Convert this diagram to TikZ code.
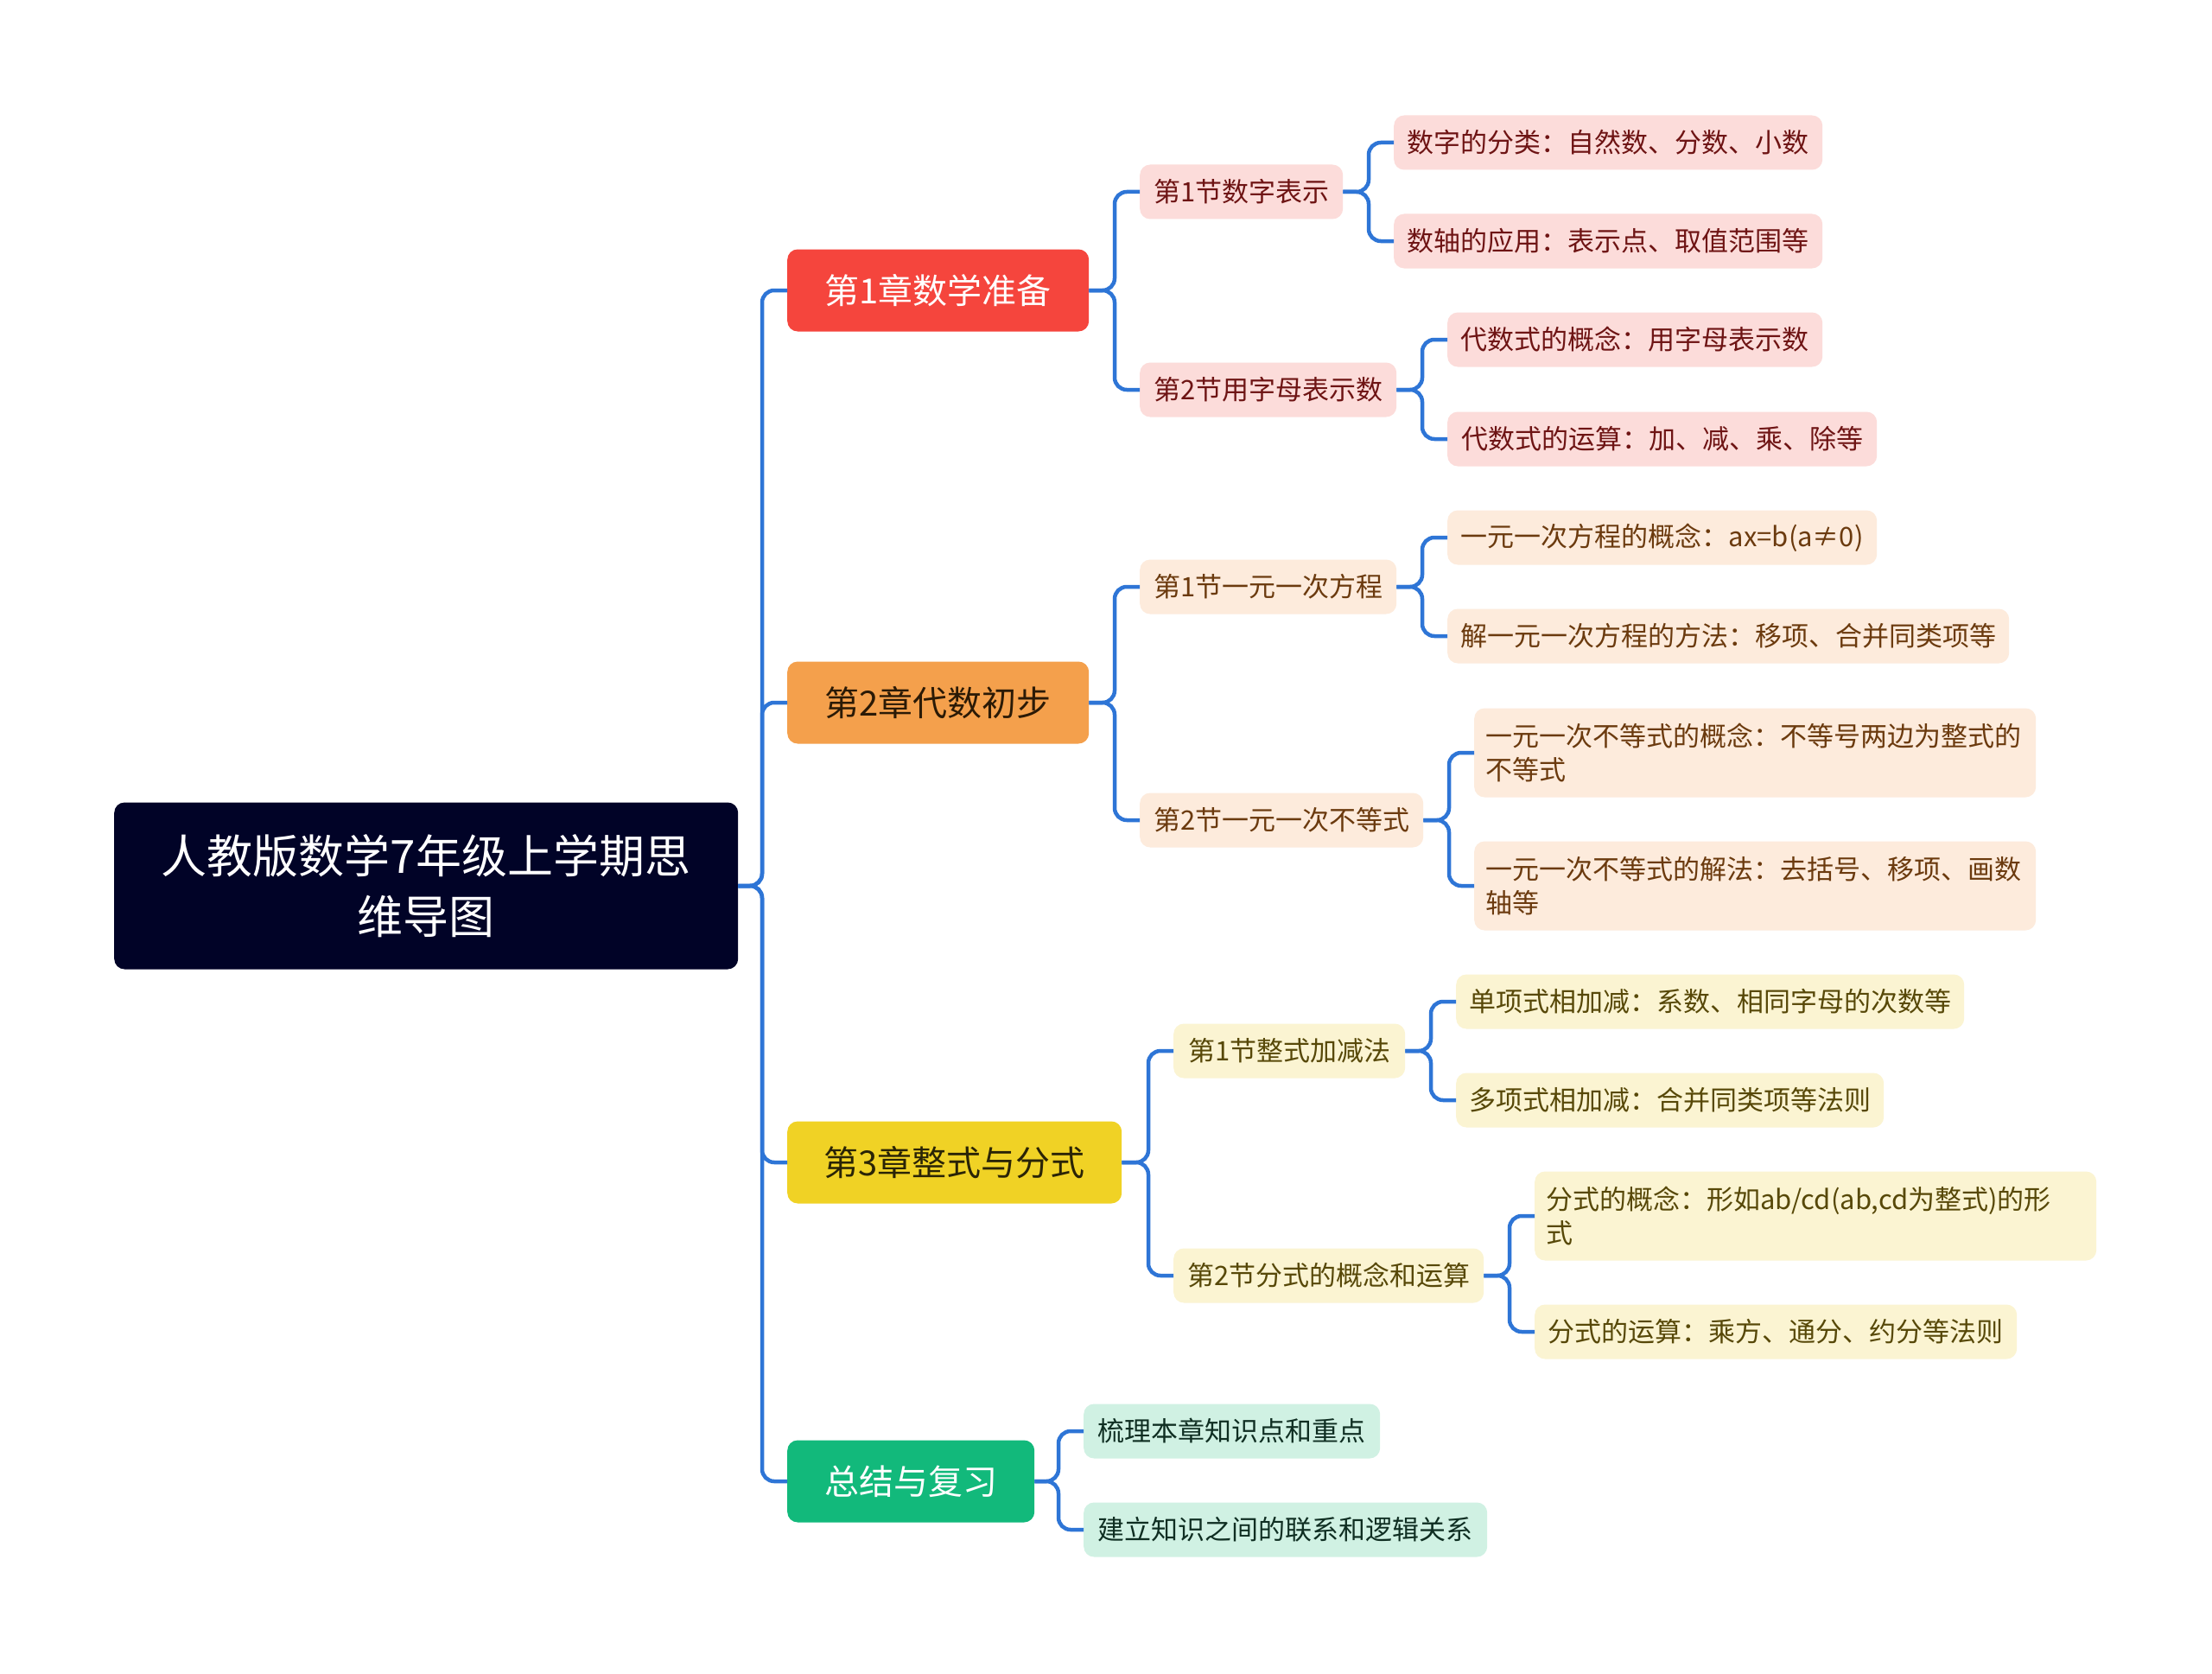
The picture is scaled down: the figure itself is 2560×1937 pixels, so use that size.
\documentclass[tikz,border=0pt]{standalone}
\usepackage{fontspec}
\setmainfont{Noto Sans CJK SC}
\definecolor{rootfill}{HTML}{010327}
\definecolor{lineblue}{HTML}{2E75D6}
\definecolor{aF}{HTML}{F5453D}\definecolor{aS}{HTML}{FCDCDA}\definecolor{aT}{HTML}{6E1414}
\definecolor{bF}{HTML}{F4A04C}\definecolor{bS}{HTML}{FDEBDC}\definecolor{bT}{HTML}{6B3A0E}\definecolor{bM}{HTML}{2B1A06}
\definecolor{cF}{HTML}{F0D225}\definecolor{cS}{HTML}{FBF4D2}\definecolor{cT}{HTML}{574808}\definecolor{cM}{HTML}{2A2406}
\definecolor{dF}{HTML}{12B97B}\definecolor{dS}{HTML}{D0F1E3}\definecolor{dT}{HTML}{0F2E22}
\begin{document}
\begin{tikzpicture}[x=1pt,y=-1pt,
  box/.style={rounded corners=12pt, inner sep=0pt, anchor=west, font=\fontsize{31}{39}\selectfont},
  leaf/.style={box, minimum height=63pt},
  twoline/.style={box, minimum height=103pt, inner xsep=13pt, text width=624pt, align=left},
  chap/.style={box, minimum height=95pt, font=\fontsize{40}{48}\selectfont},
  conn/.style={draw=lineblue, line width=4.5pt, rounded corners=14pt}]
\useasboundingbox (0,0) rectangle (2560,1937);
\fill[white] (0,0) rectangle (2560,1937);
% root
\node[box, fill=rootfill, text=white, minimum width=722pt, minimum height=193pt, align=center,
  font=\fontsize{53}{70}\selectfont] (root) at (132,1025) {人教版数学7年级上学期思\\维导图};
% chapters
\node[chap, fill=aF, text=white, minimum width=349pt] (ch1) at (911,336) {第1章数学准备};
\node[chap, fill=bF, text=bM, minimum width=349pt] (ch2) at (911,813) {第2章代数初步};
\node[chap, fill=cF, text=cM, minimum width=387pt] (ch3) at (911,1345) {第3章整式与分式};
\node[chap, fill=dF, text=white, minimum width=286pt] (ch4) at (911,1714) {总结与复习};
% chapter 1
\node[leaf, fill=aS, text=aT, minimum width=235pt] (s11) at (1319,222) {第1节数字表示};
\node[leaf, fill=aS, text=aT, minimum width=297pt] (s12) at (1319,451) {第2节用字母表示数};
\node[leaf, fill=aS, text=aT, minimum width=496pt] (l111) at (1613,165) {数字的分类：自然数、分数、小数};
\node[leaf, fill=aS, text=aT, minimum width=496pt] (l112) at (1613,279) {数轴的应用：表示点、取值范围等};
\node[leaf, fill=aS, text=aT, minimum width=434pt] (l121) at (1675,393) {代数式的概念：用字母表示数};
\node[leaf, fill=aS, text=aT, minimum width=497pt] (l122) at (1675,508) {代数式的运算：加、减、乘、除等};
% chapter 2
\node[leaf, fill=bS, text=bT, minimum width=297pt] (s21) at (1319,679) {第1节一元一次方程};
\node[leaf, fill=bS, text=bT, minimum width=328pt] (s22) at (1319,949) {第2节一元一次不等式};
\node[leaf, fill=bS, text=bT, minimum width=497pt] (l211) at (1675,622) {一元一次方程的概念：ax=b(a≠0)};
\node[leaf, fill=bS, text=bT, minimum width=650pt] (l212) at (1675,736) {解一元一次方程的方法：移项、合并同类项等};
\node[twoline, fill=bS, text=bT] (l221) at (1706,871) {一元一次不等式的概念：不等号两边为整式的\\不等式};
\node[twoline, fill=bS, text=bT] (l222) at (1706,1025) {一元一次不等式的解法：去括号、移项、画数\\轴等};
% chapter 3
\node[leaf, fill=cS, text=cT, minimum width=268pt] (s31) at (1358,1216) {第1节整式加减法};
\node[leaf, fill=cS, text=cT, minimum width=359pt] (s32) at (1358,1476) {第2节分式的概念和运算};
\node[leaf, fill=cS, text=cT, minimum width=588pt] (l311) at (1685,1159) {单项式相加减：系数、相同字母的次数等};
\node[leaf, fill=cS, text=cT, minimum width=495pt] (l312) at (1685,1273) {多项式相加减：合并同类项等法则};
\node[twoline, fill=cS, text=cT] (l321) at (1776,1407) {分式的概念：形如ab/cd(ab,cd为整式)的形\\式};
\node[leaf, fill=cS, text=cT, minimum width=558pt] (l322) at (1776,1541) {分式的运算：乘方、通分、约分等法则};
% summary
\node[leaf, fill=dS, text=dT, minimum width=343pt] (sm1) at (1254,1656) {梳理本章知识点和重点};
\node[leaf, fill=dS, text=dT, minimum width=467pt] (sm2) at (1254,1770) {建立知识之间的联系和逻辑关系};
% connectors
\foreach \p/\c in {root/ch1,root/ch2,root/ch3,root/ch4,
  ch1/s11,ch1/s12,s11/l111,s11/l112,s12/l121,s12/l122,
  ch2/s21,ch2/s22,s21/l211,s21/l212,s22/l221,s22/l222,
  ch3/s31,ch3/s32,s31/l311,s31/l312,s32/l321,s32/l322,
  ch4/sm1,ch4/sm2}
  \draw[conn] (\p.east) -| ([xshift=-29pt]\c.west) -- (\c.west);
\end{tikzpicture}
\end{document}
